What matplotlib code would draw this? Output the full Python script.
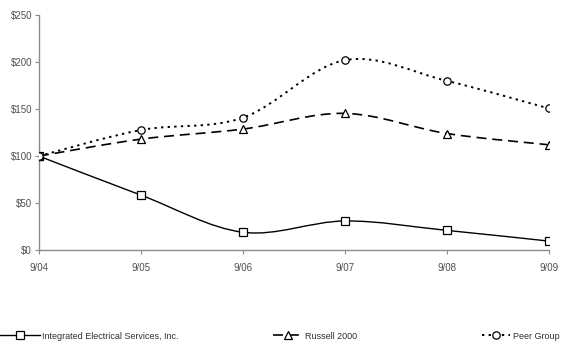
import numpy as np
import matplotlib.pyplot as plt
from matplotlib.path import Path
from matplotlib.patches import PathPatch
from matplotlib.lines import Line2D
from matplotlib.ticker import FuncFormatter

plt.rcParams['font.family'] = ['Liberation Sans Narrow', 'Liberation Sans', 'DejaVu Sans']

periods = ["9/04", "9/05", "9/06", "9/07", "9/08", "9/09"]
ies = [100, 58.5, 19, 31, 21, 9.6]
russell = [100, 118, 128.7, 145.4, 124, 112]
peer = [100, 127.7, 140.8, 202, 180, 150.7]


def smooth_path(xs, ys):
    # excel-style smoothed line: cubic bezier through the data points
    pts = np.column_stack([xs, ys]).astype(float)
    n = len(pts)
    verts = [pts[0]]
    codes = [Path.MOVETO]
    for i in range(n - 1):
        p0 = pts[i - 1] if i > 0 else pts[i]
        p1 = pts[i]
        p2 = pts[i + 1]
        p3 = pts[i + 2] if i + 2 < n else pts[i + 1]
        c1 = p1 + (p2 - p0) / 6.0
        c2 = p2 - (p3 - p1) / 6.0
        verts += [c1, c2, p2]
        codes += [Path.CURVE4] * 3
    return Path(verts, codes)


fig = plt.figure(figsize=(5.64, 3.45), dpi=100)
ax = fig.add_axes([0.069, 0.275, 0.904, 0.6815])

x = np.arange(len(periods))
series = [
    ("Integrated Electrical Services, Inc.", ies, "s", "-", 1.0),
    ("Russell 2000", russell, "^", (0, (6, 3.5)), 1.2),
    ("Peer Group", peer, "o", (0, (1.2, 2.2)), 1.4),
]
for name, vals, mk, ls, lw in series:
    ax.add_patch(PathPatch(smooth_path(x, vals), fill=False, edgecolor="black",
                           linewidth=lw, linestyle=ls, zorder=2))
    ax.plot(x, vals, linestyle="none", marker=mk, markersize=5.3,
            markerfacecolor="white", markeredgecolor="black",
            markeredgewidth=0.9, zorder=3)

ax.set_xlim(0, 5)
ax.set_ylim(0, 250)
ax.set_xticks(x)
ax.set_xticklabels(periods)
ax.set_yticks(np.arange(0, 251, 50))
ax.yaxis.set_major_formatter(FuncFormatter(lambda v, p: "${:.0f}".format(v)))

for s in ["top", "right"]:
    ax.spines[s].set_visible(False)
for s in ["left", "bottom"]:
    ax.spines[s].set_color("#8c8c8c")
    ax.spines[s].set_linewidth(1.0)
ax.tick_params(axis="both", direction="out", length=3, width=0.8, color="#8c8c8c",
               labelsize=7, labelcolor="#505050")
ax.tick_params(axis="x", pad=6)
ax.tick_params(axis="y", pad=2)

# legend row along the bottom
anchors = [0.0, 0.484, 0.855]
hl = [4.4, 3.3, 3.1]
for (name, vals, mk, ls, lw), ax0, h in zip(series, anchors, hl):
    handle = Line2D([], [], color="black", linewidth=lw, linestyle=ls, marker=mk,
                    markersize=5.3, markerfacecolor="white", markeredgecolor="black",
                    markeredgewidth=0.9)
    fig.legend([handle], [name], loc="center left", bbox_to_anchor=(ax0, 0.026),
               frameon=False, fontsize=6.5, handlelength=h, handletextpad=0.3,
               borderpad=0, borderaxespad=0, labelcolor="#303030")

fig.savefig("out.png", dpi=100)
